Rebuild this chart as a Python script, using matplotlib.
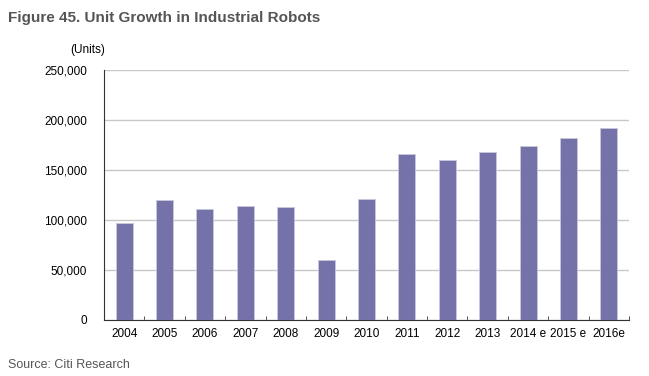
import numpy as np
import matplotlib.pyplot as plt
from matplotlib.ticker import FuncFormatter

# Datos
years = ["2004", "2005", "2006", "2007", "2008", "2009", "2010",
         "2011", "2012", "2013", "2014 e", "2015 e", "2016e"]
units = [97000, 120000, 111000, 113500, 112500, 59500, 120500,
         166000, 159500, 168000, 174000, 181500, 191500]

plt.rcParams['font.family'] = ['Liberation Sans', 'DejaVu Sans']

fig = plt.figure(figsize=(6.49, 3.76), dpi=100)
ax = fig.add_axes([104 / 649, 1 - 319.5 / 376, 525 / 649, 250 / 376])

x = np.arange(len(years))
ax.bar(x, units, width=0.42, color="#7472a8", edgecolor="#c9c8dc", linewidth=0.6, zorder=3)

ax.set_xlim(-0.5, len(years) - 0.5)
ax.set_ylim(0, 250000)
ax.set_yticks(np.arange(0, 250001, 50000))
ax.yaxis.set_major_formatter(FuncFormatter(lambda v, p: f"{int(v):,}"))
ax.grid(axis="y", color="#c8c8c8", linewidth=1, zorder=0)

# Marcas entre categorías
ax.set_xticks(x)
ax.set_xticklabels(years)
ax.set_xticks(np.arange(0.5, len(years) - 0.5 + 0.01, 1), minor=True)
ax.tick_params(axis="x", which="major", length=0, pad=6, labelsize=8.5)
ax.tick_params(axis="x", which="minor", direction="in", length=3, color="#333333")
ax.tick_params(axis="y", length=0, pad=12, labelsize=8.5)

for s in ["top", "right"]:
    ax.spines[s].set_visible(False)
ax.spines["left"].set_color("#333333")
ax.spines["bottom"].set_color("#333333")

fig.text(8 / 649, 1 - 18 / 376, "Figure 45. Unit Growth in Industrial Robots",
         fontsize=11, fontweight="bold", color="#555555", va="center")
fig.text(88 / 649, 1 - 50 / 376, "(Units)", fontsize=8.5, ha="center", va="center")
fig.text(8 / 649, 1 - 365 / 376, "Source: Citi Research", fontsize=9, color="#555555",
         va="center")

fig.savefig("out.png", dpi=100)
